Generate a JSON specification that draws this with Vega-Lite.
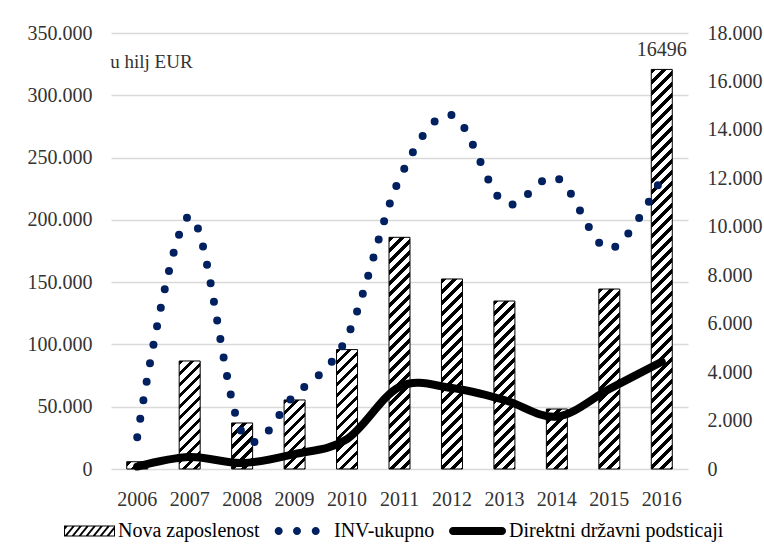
{
  "$schema": "https://vega.github.io/schema/vega-lite/v6.json",
  "width": 577,
  "height": 436,
  "autosize": {"type": "none"},
  "padding": {"left": 111, "top": 33, "right": 76, "bottom": 84},
  "background": "white",
  "data": {
    "values": [
      {"year": "2006", "jobs": 300, "inv": 25500, "subs": 2000},
      {"year": "2007", "jobs": 4460, "inv": 203000, "subs": 9600},
      {"year": "2008", "jobs": 1900, "inv": 29000, "subs": 4800},
      {"year": "2009", "jobs": 2850, "inv": 59400, "subs": 12000},
      {"year": "2010", "jobs": 4930, "inv": 106000, "subs": 24000},
      {"year": "2011", "jobs": 9565, "inv": 233000, "subs": 66000},
      {"year": "2012", "jobs": 7845, "inv": 284000, "subs": 65000},
      {"year": "2013", "jobs": 6935, "inv": 213500, "subs": 55400},
      {"year": "2014", "jobs": 2477, "inv": 233600, "subs": 42000},
      {"year": "2015", "jobs": 7430, "inv": 176600, "subs": 64200},
      {"year": "2016", "jobs": 16496, "inv": 234000, "subs": 86100}
    ]
  },
  "encoding": {
    "x": {
      "field": "year",
      "type": "ordinal",
      "scale": {"paddingInner": 0, "paddingOuter": 0},
      "axis": {"title": null, "labelAngle": 0, "labelPadding": 20, "domain": false, "ticks": false, "grid": false}
    }
  },
  "layer": [
    {
      "encoding": {
        "y": {
          "field": "jobs",
          "type": "quantitative",
          "scale": {"domain": [0, 18000], "nice": false},
          "axis": {
            "orient": "right",
            "title": null,
            "grid": false,
            "values": [0, 2000, 4000, 6000, 8000, 10000, 12000, 14000, 16000, 18000],
            "labelExpr": "replace(format(datum.value, ','), ',', '.')",
            "labelPadding": 19
          }
        }
      },
      "layer": [
        {
          "mark": {
            "type": "bar",
            "width": 21,
            "stroke": "black",
            "strokeWidth": 1,
            "fill": {"expr": "{gradient:'linear',x1:0,y1:0,x2:9240/(441+pow(datum.jobs*0.0242222,2)),y2:440*datum.jobs*0.0242222/(441+pow(datum.jobs*0.0242222,2)),stops:[{offset:0,color:'#000'},{offset:0.011,color:'#000'},{offset:0.011,color:'#fff'},{offset:0.025,color:'#fff'},{offset:0.025,color:'#000'},{offset:0.036,color:'#000'},{offset:0.036,color:'#fff'},{offset:0.05,color:'#fff'},{offset:0.05,color:'#000'},{offset:0.061,color:'#000'},{offset:0.061,color:'#fff'},{offset:0.075,color:'#fff'},{offset:0.075,color:'#000'},{offset:0.086,color:'#000'},{offset:0.086,color:'#fff'},{offset:0.1,color:'#fff'},{offset:0.1,color:'#000'},{offset:0.111,color:'#000'},{offset:0.111,color:'#fff'},{offset:0.125,color:'#fff'},{offset:0.125,color:'#000'},{offset:0.136,color:'#000'},{offset:0.136,color:'#fff'},{offset:0.15,color:'#fff'},{offset:0.15,color:'#000'},{offset:0.161,color:'#000'},{offset:0.161,color:'#fff'},{offset:0.175,color:'#fff'},{offset:0.175,color:'#000'},{offset:0.186,color:'#000'},{offset:0.186,color:'#fff'},{offset:0.2,color:'#fff'},{offset:0.2,color:'#000'},{offset:0.211,color:'#000'},{offset:0.211,color:'#fff'},{offset:0.225,color:'#fff'},{offset:0.225,color:'#000'},{offset:0.236,color:'#000'},{offset:0.236,color:'#fff'},{offset:0.25,color:'#fff'},{offset:0.25,color:'#000'},{offset:0.261,color:'#000'},{offset:0.261,color:'#fff'},{offset:0.275,color:'#fff'},{offset:0.275,color:'#000'},{offset:0.286,color:'#000'},{offset:0.286,color:'#fff'},{offset:0.3,color:'#fff'},{offset:0.3,color:'#000'},{offset:0.311,color:'#000'},{offset:0.311,color:'#fff'},{offset:0.325,color:'#fff'},{offset:0.325,color:'#000'},{offset:0.336,color:'#000'},{offset:0.336,color:'#fff'},{offset:0.35,color:'#fff'},{offset:0.35,color:'#000'},{offset:0.361,color:'#000'},{offset:0.361,color:'#fff'},{offset:0.375,color:'#fff'},{offset:0.375,color:'#000'},{offset:0.386,color:'#000'},{offset:0.386,color:'#fff'},{offset:0.4,color:'#fff'},{offset:0.4,color:'#000'},{offset:0.411,color:'#000'},{offset:0.411,color:'#fff'},{offset:0.425,color:'#fff'},{offset:0.425,color:'#000'},{offset:0.436,color:'#000'},{offset:0.436,color:'#fff'},{offset:0.45,color:'#fff'},{offset:0.45,color:'#000'},{offset:0.461,color:'#000'},{offset:0.461,color:'#fff'},{offset:0.475,color:'#fff'},{offset:0.475,color:'#000'},{offset:0.486,color:'#000'},{offset:0.486,color:'#fff'},{offset:0.5,color:'#fff'},{offset:0.5,color:'#000'},{offset:0.511,color:'#000'},{offset:0.511,color:'#fff'},{offset:0.525,color:'#fff'},{offset:0.525,color:'#000'},{offset:0.536,color:'#000'},{offset:0.536,color:'#fff'},{offset:0.55,color:'#fff'},{offset:0.55,color:'#000'},{offset:0.561,color:'#000'},{offset:0.561,color:'#fff'},{offset:0.575,color:'#fff'},{offset:0.575,color:'#000'},{offset:0.586,color:'#000'},{offset:0.586,color:'#fff'},{offset:0.6,color:'#fff'},{offset:0.6,color:'#000'},{offset:0.611,color:'#000'},{offset:0.611,color:'#fff'},{offset:0.625,color:'#fff'},{offset:0.625,color:'#000'},{offset:0.636,color:'#000'},{offset:0.636,color:'#fff'},{offset:0.65,color:'#fff'},{offset:0.65,color:'#000'},{offset:0.661,color:'#000'},{offset:0.661,color:'#fff'},{offset:0.675,color:'#fff'},{offset:0.675,color:'#000'},{offset:0.686,color:'#000'},{offset:0.686,color:'#fff'},{offset:0.7,color:'#fff'},{offset:0.7,color:'#000'},{offset:0.711,color:'#000'},{offset:0.711,color:'#fff'},{offset:0.725,color:'#fff'},{offset:0.725,color:'#000'},{offset:0.736,color:'#000'},{offset:0.736,color:'#fff'},{offset:0.75,color:'#fff'},{offset:0.75,color:'#000'},{offset:0.761,color:'#000'},{offset:0.761,color:'#fff'},{offset:0.775,color:'#fff'},{offset:0.775,color:'#000'},{offset:0.786,color:'#000'},{offset:0.786,color:'#fff'},{offset:0.8,color:'#fff'},{offset:0.8,color:'#000'},{offset:0.811,color:'#000'},{offset:0.811,color:'#fff'},{offset:0.825,color:'#fff'},{offset:0.825,color:'#000'},{offset:0.836,color:'#000'},{offset:0.836,color:'#fff'},{offset:0.85,color:'#fff'},{offset:0.85,color:'#000'},{offset:0.861,color:'#000'},{offset:0.861,color:'#fff'},{offset:0.875,color:'#fff'},{offset:0.875,color:'#000'},{offset:0.886,color:'#000'},{offset:0.886,color:'#fff'},{offset:0.9,color:'#fff'},{offset:0.9,color:'#000'},{offset:0.911,color:'#000'},{offset:0.911,color:'#fff'},{offset:0.925,color:'#fff'},{offset:0.925,color:'#000'},{offset:0.936,color:'#000'},{offset:0.936,color:'#fff'},{offset:0.95,color:'#fff'},{offset:0.95,color:'#000'},{offset:0.961,color:'#000'},{offset:0.961,color:'#fff'},{offset:0.975,color:'#fff'},{offset:0.975,color:'#000'},{offset:0.986,color:'#000'},{offset:0.986,color:'#fff'},{offset:1,color:'#fff'}]}"}
          }
        },
        {
          "transform": [{"filter": "datum.year == '2016'"}],
          "mark": {"type": "text", "baseline": "alphabetic", "dy": -13, "fontSize": 20, "font": "Liberation Serif", "color": "#333"},
          "encoding": {"text": {"field": "jobs", "type": "quantitative", "format": "d"}}
        }
      ]
    },
    {
      "layer": [
        {
          "mark": {"type": "line", "interpolate": "cardinal", "color": "#002060", "strokeWidth": 8, "strokeDash": [0, 18.8], "strokeCap": "round"},
          "encoding": {
            "y": {
              "field": "inv",
              "type": "quantitative",
              "scale": {"domain": [0, 350000], "nice": false},
              "axis": {
                "orient": "left",
                "title": null,
                "grid": true,
                "values": [0, 50000, 100000, 150000, 200000, 250000, 300000, 350000],
                "labelExpr": "replace(format(datum.value, ','), ',', '.')",
                "labelPadding": 19
              }
            }
          }
        },
        {
          "mark": {"type": "line", "interpolate": "cardinal", "color": "black", "strokeWidth": 8, "strokeCap": "round", "strokeJoin": "round"},
          "encoding": {
            "y": {"field": "subs", "type": "quantitative", "scale": {"domain": [0, 350000], "nice": false}}
          }
        },
        {
          "transform": [{"filter": "datum.year == '2006'"}],
          "mark": {"type": "text", "align": "left", "baseline": "middle", "dx": -27, "fontSize": 19, "font": "Liberation Serif", "color": "#333"},
          "encoding": {
            "y": {"datum": 326700, "type": "quantitative"},
            "text": {"value": "u hilj EUR"}
          }
        },
        {
          "transform": [{"fold": ["jobs", "inv", "subs"], "as": ["key", "val"]}],
          "mark": {"type": "point", "filled": true, "opacity": 0},
          "encoding": {
            "color": {
              "field": "key",
              "type": "nominal",
              "scale": {"domain": ["jobs", "inv", "subs"], "range": ["black", "#002060", "black"]},
              "legend": {
                "title": null,
                "orient": "none",
                "legendX": -57,
                "legendY": 488,
                "direction": "horizontal",
                "columns": 3,
                "gridAlign": "none",
                "symbolSize": 144,
                "symbolOffset": 23,
                "labelOffset": 21,
                "labelFont": "Liberation Serif",
                "labelFontSize": 20,
                "labelColor": "black",
                "labelLimit": 400,
                "symbolStrokeWidth": 0,
                "symbolOpacity": 1,
                "columnPadding": 10,
                "padding": 0,
                "labelExpr": "datum.label == 'jobs' ? 'Nova zaposlenost' : datum.label == 'inv' ? 'INV-ukupno' : 'Direktni državni podsticaji'"
              }
            },
            "shape": {
              "field": "key",
              "type": "nominal",
              "scale": {
                "domain": ["jobs", "inv", "subs"],
                "range": [
                  "M-3.833,-0.917H4.667V-0.75H-3.833ZM-3.833,0.75H4.667V0.917H-3.833ZM-3.833,-0.917H-3.667V0.917H-3.833ZM4.5,-0.917H4.667V0.917H4.5ZM-3.83,0.917L-2.33,-0.917H-1.93L-3.43,0.917ZM-2.66,0.917L-1.16,-0.917H-0.76L-2.26,0.917ZM-1.5,0.917L0,-0.917H0.4L-1.1,0.917ZM-0.33,0.917L1.17,-0.917H1.57L0.07,0.917ZM0.84,0.917L2.34,-0.917H2.74L1.24,0.917ZM2,0.917L3.5,-0.917H3.9L2.4,0.917ZM-3.83,-0.513L-3.5,-0.917H-3.1L-3.83,-0.024ZM3.17,0.917L4.667,-0.917V-0.424L3.57,0.917Z",
                  "M-4.717,0A0.667,0.667 0 1,0 -3.383,0A0.667,0.667 0 1,0 -4.717,0ZM-1.667,0A0.667,0.667 0 1,0 -0.333,0A0.667,0.667 0 1,0 -1.667,0ZM1.453,0A0.667,0.667 0 1,0 2.787,0A0.667,0.667 0 1,0 1.453,0Z",
                  "M-4.163,-0.667H4.003A0.667,0.667 0 0,1 4.003,0.667H-4.163A0.667,0.667 0 0,1 -4.163,-0.667Z"
                ]
              },
              "legend": {
                "title": null,
                "orient": "none",
                "legendX": -57,
                "legendY": 488,
                "direction": "horizontal",
                "columns": 3,
                "gridAlign": "none",
                "symbolSize": 144,
                "symbolOffset": 23,
                "labelOffset": 21,
                "labelFont": "Liberation Serif",
                "labelFontSize": 20,
                "labelColor": "black",
                "labelLimit": 400,
                "symbolStrokeWidth": 0,
                "symbolOpacity": 1,
                "columnPadding": 10,
                "padding": 0,
                "labelExpr": "datum.label == 'jobs' ? 'Nova zaposlenost' : datum.label == 'inv' ? 'INV-ukupno' : 'Direktni državni podsticaji'"
              }
            }
          }
        }
      ]
    }
  ],
  "resolve": {"scale": {"y": "independent"}},
  "config": {
    "view": {"stroke": null},
    "font": "Liberation Serif",
    "axis": {
      "labelFont": "Liberation Serif",
      "labelFontSize": 20,
      "labelColor": "#333",
      "domain": false,
      "ticks": false,
      "gridColor": "#d9d9d9",
      "gridWidth": 1.3
    }
  }
}
